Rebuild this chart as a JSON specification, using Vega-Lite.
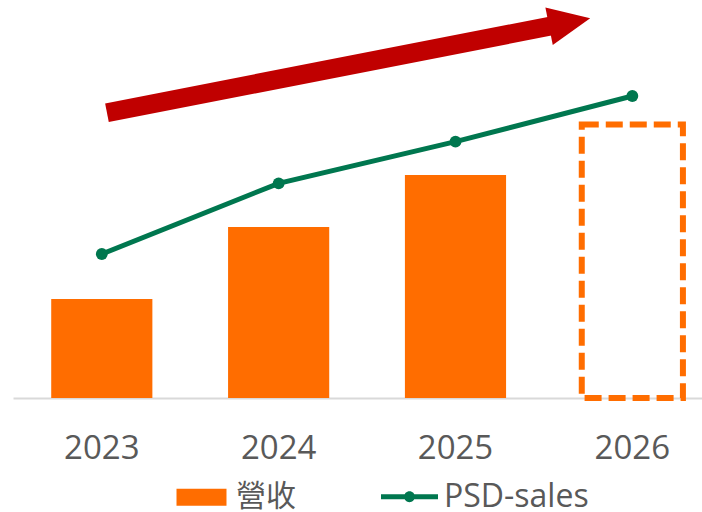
{
  "$schema": "https://vega.github.io/schema/vega-lite/v6.json",
  "width": 689,
  "height": 398,
  "autosize": {"type": "none"},
  "padding": {"left": 13, "top": 0, "right": 0, "bottom": 114},
  "background": "white",
  "config": {"view": {"stroke": null}, "font": "Open Sans"},
  "datasets": {
    "revenue": [
      {"year": "2023", "series": "營收", "value": 24.87},
      {"year": "2024", "series": "營收", "value": 42.96},
      {"year": "2025", "series": "營收", "value": 56.03}
    ],
    "forecast": [
      {"year": "2026", "series": "營收", "value": 68.72}
    ],
    "sales": [
      {"year": "2023", "series": "PSD-sales", "value": 36.18},
      {"year": "2024", "series": "PSD-sales", "value": 53.94},
      {"year": "2025", "series": "PSD-sales", "value": 64.40},
      {"year": "2026", "series": "PSD-sales", "value": 75.88}
    ],
    "shaft": [
      {"t": 2023.028, "v": 71.68},
      {"t": 2025.548, "v": 93.53}
    ],
    "head": [
      {"t": 2025.647, "v": 94.4}
    ]
  },
  "layer": [
    {
      "layer": [
        {
          "data": {"name": "revenue"},
          "mark": {"type": "bar"},
          "encoding": {
            "x": {
              "field": "year", "type": "nominal",
              "scale": {"domain": ["2023", "2024", "2025", "2026"], "paddingInner": 0.428, "paddingOuter": 0.162, "align": 0.667},
              "axis": {"title": null, "labelAngle": 0, "ticks": false, "tickSize": 0, "labelPadding": 34, "labelFont": "Open Sans", "labelFontSize": 33, "labelColor": "#595959", "domainColor": "#D9D9D9", "domainWidth": 2, "grid": false}
            },
            "y": {"field": "value", "type": "quantitative", "scale": {"domain": [0, 100], "nice": false, "zero": true}, "axis": null},
            "color": {
              "field": "series", "type": "nominal",
              "scale": {"domain": ["營收", "PSD-sales"], "range": ["#FF6D00", "#00774F"]},
              "legend": {
                "orient": "none", "legendX": 160, "legendY": 468, "direction": "horizontal",
                "title": null, "labelFont": "Open Sans, Noto Sans CJK TC", "labelFontSize": 32,
                "labelColor": "#595959", "symbolSize": 3249, "labelOffset": 6, "columnPadding": 85, "padding": 0,
                "encode": {
                  "symbols": {
                    "update": {
                      "shape": {"signal": "datum.value === '營收' ? 'M-0.877,-0.3H0.877V0.3H-0.877Z' : 'M-1,-0.09H1V0.09H-1Z M-0.19,0A0.19,0.19 0 1,1 0.19,0A0.19,0.19 0 1,1 -0.19,0Z'"},
                      "fill": {"signal": "datum.value === '營收' ? '#ED7D31' : '#00774F'"},
                      "fillOpacity": {"value": 1},
                      "opacity": {"value": 1},
                      "stroke": {"value": "transparent"},
                      "strokeWidth": {"value": 0},
                      "size": {"value": 3249}
                    }
                  },
                  "labels": {
                    "update": {
                      "fontSize": {"signal": "datum.value === '營收' ? 30 : 32"}
                    }
                  }
                }
              }
            }
          }
        },
        {
          "data": {"name": "forecast"},
          "mark": {"type": "bar", "fill": "transparent", "stroke": "#FF6D00", "strokeWidth": 6, "strokeDash": [17, 7]},
          "encoding": {
            "x": {"field": "year", "type": "nominal"},
            "y": {"field": "value", "type": "quantitative", "scale": {"domain": [0, 100], "nice": false}, "axis": null}
          }
        },
        {
          "data": {"name": "sales"},
          "mark": {"type": "line", "strokeWidth": 5, "point": {"filled": true, "size": 140}},
          "encoding": {
            "x": {"field": "year", "type": "nominal"},
            "y": {"field": "value", "type": "quantitative", "scale": {"domain": [0, 100], "nice": false}, "axis": null},
            "color": {"field": "series", "type": "nominal"}
          }
        }
      ]
    },
    {
      "layer": [
        {
          "data": {"name": "shaft"},
          "mark": {"type": "line", "color": "#C00000", "strokeWidth": 19, "strokeCap": "butt"},
          "encoding": {
            "x": {"field": "t", "type": "quantitative", "scale": {"domain": [2022.4962, 2026.3962], "nice": false, "zero": false}, "axis": null},
            "y": {"field": "v", "type": "quantitative", "scale": {"domain": [0, 100], "nice": false}, "axis": null}
          }
        },
        {
          "data": {"name": "head"},
          "mark": {"type": "point", "filled": true, "color": "#C00000", "opacity": 1, "shape": "M-1,-0.914L1,0L-1,0.914Z", "size": 1756, "angle": 348.94},
          "encoding": {
            "x": {"field": "t", "type": "quantitative"},
            "y": {"field": "v", "type": "quantitative", "axis": null}
          }
        }
      ]
    }
  ],
  "resolve": {"scale": {"x": "independent"}}
}
